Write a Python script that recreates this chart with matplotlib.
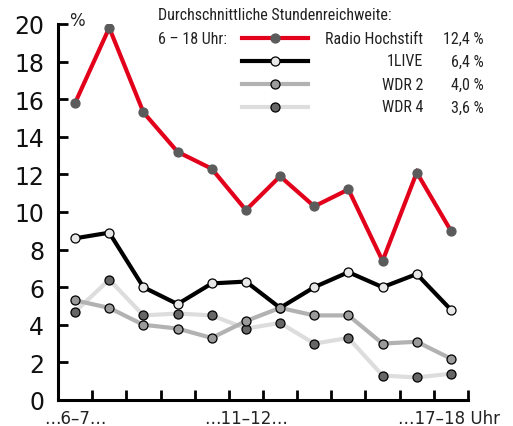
import matplotlib
matplotlib.use("Agg")
import matplotlib.pyplot as plt
from matplotlib.lines import Line2D
from matplotlib import font_manager as fm

hours = ["6-7", "7-8", "8-9", "9-10", "10-11", "11-12", "12-13", "13-14",
         "14-15", "15-16", "16-17", "17-18"]
radio_hochstift = [15.8, 19.8, 15.3, 13.2, 12.3, 10.1, 11.9, 10.3, 11.2, 7.4, 12.1, 9.0]
einslive = [8.6, 8.9, 6.0, 5.1, 6.2, 6.3, 4.9, 6.0, 6.8, 6.0, 6.7, 4.8]
wdr2 = [5.3, 4.9, 4.0, 3.8, 3.3, 4.2, 4.9, 4.5, 4.5, 3.0, 3.1, 2.2]
wdr4 = [4.7, 6.4, 4.5, 4.6, 4.5, 3.8, 4.1, 3.0, 3.3, 1.3, 1.2, 1.4]
series_names = ["Radio Hochstift", "1LIVE", "WDR 2", "WDR 4"]
averages = ["12,4 %", "6,4 %", "4,0 %", "3,6 %"]
x_labels = {0: "…6–7…", 5: "…11–12…", 11: "…17–18 Uhr"}
y_ticks = [0, 2, 4, 6, 8, 10, 12, 14, 16, 18, 20]

available = {f.name for f in fm.fontManager.ttflist}
NARROW = [f for f in ["Roboto Condensed", "Archivo Narrow", "PT Sans Narrow",
                      "Liberation Sans Narrow"] if f in available] + ["DejaVu Sans"]
LEG_FS = 11.5 if NARROW[0] != "DejaVu Sans" else 10

W, H = 513, 427
fig = plt.figure(figsize=(W / 100, H / 100), dpi=100)
ax = fig.add_axes([58 / W, (H - 401) / H, 410 / W, 376 / H])

styles = [
    dict(color="#e3001b", mfc="#5b5b5b", mec="#5b5b5b", z=5),
    dict(color="#000000", mfc="#e8e8e8", mec="#000000", z=3),
    dict(color="#b2b2b2", mfc="#9a9a9a", mec="#000000", z=4),
    dict(color="#dddddd", mfc="#666666", mec="#000000", z=2),
]
data = [radio_hochstift, einslive, wdr2, wdr4]
xs = list(range(len(hours)))
for vals, st in zip(data, styles):
    ax.plot(xs, vals, color=st["color"], lw=3.0, marker="o", ms=6.5,
            mfc=st["mfc"], mec=st["mec"], mew=0.9, zorder=st["z"],
            solid_joinstyle="miter")

ax.set_xlim(-0.5, len(hours) - 0.5)
ax.set_ylim(0, 20)
for s in ["top", "right"]:
    ax.spines[s].set_visible(False)
for s in ["left", "bottom"]:
    ax.spines[s].set_linewidth(2.2)
    ax.spines[s].set_capstyle("projecting")

ax.set_yticks(y_ticks)
ax.set_yticklabels([str(v) for v in y_ticks], fontsize=17, color="#111111")
ax.tick_params(axis="y", direction="in", length=7, width=2, pad=10)

ax.set_xticks([i - 0.5 for i in range(len(hours) + 1)])
ax.set_xticklabels([])
ax.tick_params(axis="x", direction="in", length=7, width=2)

for i, lab in x_labels.items():
    if i == len(hours) - 1:
        ax.text(i - 1.55, -0.5, lab, ha="left", va="top", fontsize=12, color="#222222")
    else:
        ax.text(i, -0.5, lab, ha="center", va="top", fontsize=12, color="#222222")

fig.text(69 / W, 1 - 21 / H, "%", fontsize=12, color="#222222", va="center", ha="left")

# legend
fig.text(158 / W, 1 - 16 / H, "Durchschnittliche Stundenreichweite:", fontsize=LEG_FS,
         family=NARROW, color="#222222", va="center", ha="left")
fig.text(158 / W, 1 - 39 / H, "6 – 18 Uhr:", fontsize=LEG_FS, family=NARROW,
         color="#222222", va="center", ha="left")
rows_y = [39, 62, 85, 108]
for name, avg, st, ry in zip(series_names, averages, styles, rows_y):
    yf = 1 - ry / H
    fig.add_artist(Line2D([242 / W, 308 / W], [yf, yf], color=st["color"], lw=3.0,
                          transform=fig.transFigure))
    fig.add_artist(Line2D([275 / W], [yf], marker="o", ms=6.5, mfc=st["mfc"],
                          mec=st["mec"], mew=0.9, transform=fig.transFigure))
    fig.text(423 / W, yf, name, fontsize=LEG_FS, family=NARROW, color="#222222",
             va="center", ha="right")
    fig.text(484 / W, yf, avg, fontsize=LEG_FS, family=NARROW, color="#222222",
             va="center", ha="right")

fig.savefig("out.png", dpi=100)
